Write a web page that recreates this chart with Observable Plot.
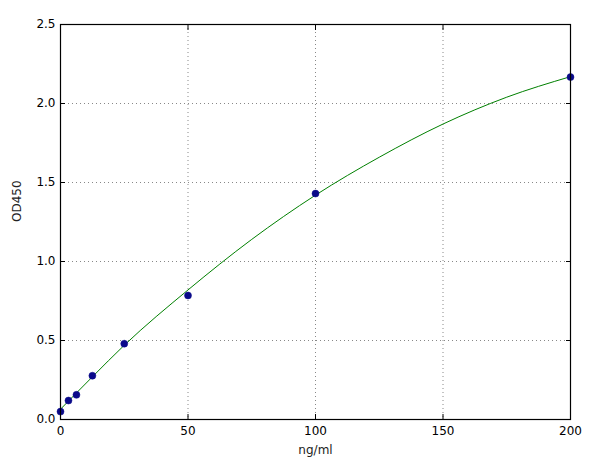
<!DOCTYPE html>
<html><head>
<meta charset="utf-8">
<script src="https://cdn.jsdelivr.net/npm/d3@7"></script>
<script src="https://cdn.jsdelivr.net/npm/@observablehq/plot@0.6"></script>
<style>
html,body{margin:0;padding:0;background:#fff;}
svg{font-family:"DejaVu Sans",sans-serif;}
</style>
</head><body>
<div id="chart"></div>
<script>
const concX = [0, 3.125, 6.25, 12.5, 25, 50, 100, 200];
const odY = [0.05, 0.12, 0.156, 0.277, 0.48, 0.785, 1.43, 2.167];
const fitX = [0, 12.5, 25, 50, 75, 100, 125, 150, 175, 200];
const fitY = [0.065, 0.27, 0.47, 0.82, 1.14, 1.42, 1.66, 1.87, 2.04, 2.17];
const xTicks = [0, 50, 100, 150, 200];
const yTicks = [0, 0.5, 1.0, 1.5, 2.0, 2.5];

const points = concX.map((x, i) => ({x, y: odY[i]}));
const fit = fitX.map((x, i) => ({x, y: fitY[i]}));
const blank = () => "";

const chart = Plot.plot({
  width: 596,
  height: 469,
  marginLeft: 60,
  marginRight: 26,
  marginTop: 24,
  marginBottom: 50,
  style: {fontSize: "12px", fontFamily: "DejaVu Sans, sans-serif", color: "#000", background: "#fff"},
  x: {domain: [0, 200]},
  y: {domain: [0, 2.5]},
  marks: [
    Plot.gridX(xTicks, {stroke: "#555", strokeOpacity: 0.7, strokeDasharray: "1,3"}),
    Plot.gridY(yTicks, {stroke: "#555", strokeOpacity: 0.7, strokeDasharray: "1,3"}),
    Plot.axisX(xTicks, {anchor: "bottom", tickSize: -5, tickPadding: 12, stroke: "#000", label: null, fontSize: 12}),
    Plot.axisX(xTicks, {anchor: "top", tickSize: -5, tickFormat: blank, stroke: "#000", label: null}),
    Plot.axisY(yTicks, {anchor: "left", tickSize: -5, tickPadding: 10, tickFormat: d3.format(".1f"), stroke: "#000", label: null, fontSize: 12}),
    Plot.axisY(yTicks, {anchor: "right", tickSize: -5, tickFormat: blank, stroke: "#000", label: null}),
    Plot.line(fit, {x: "x", y: "y", stroke: "#008000", strokeWidth: 1, curve: "monotone-x"}),
    Plot.dot(points, {x: "x", y: "y", r: 3.5, fill: "#0a0a8a", stroke: "#0a0a8a", strokeWidth: 0.5}),
    Plot.frame({stroke: "#000", strokeWidth: 1.2}),
    Plot.text(["ng/ml"], {frameAnchor: "bottom", dy: 34, fontSize: 12, fill: "#222"}),
    Plot.text(["OD450"], {frameAnchor: "left", dx: -43, rotate: -90, fontSize: 12, fill: "#222"})
  ]
});
document.getElementById("chart").appendChild(chart);
</script>
</body></html>
